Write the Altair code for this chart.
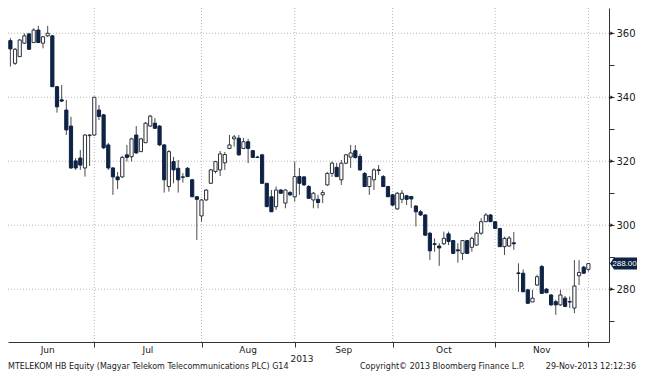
import altair as alt
import pandas as pd

# ---- daily OHLC (HUF), trading days 3-Jun-2013 .. 29-Nov-2013 ----
opens = [357.7, 357.7, 350.6, 352.7, 356.9, 359.8, 357.1, 361.0, 356.9, 359.2,
         359.2, 343.3, 339.2, 336.0, 331.0, 320.1, 321.0, 317.9, 328.0, 328.2,
         336.0, 334.5, 325.1, 317.9, 315.1, 315.1, 322.0, 321.4, 328.2, 323.0,
         325.8, 331.0, 331.9, 331.0, 325.1, 312.1, 319.9, 317.8, 315.1, 317.8,
         314.2, 308.9, 302.9, 307.9, 313.1, 316.8, 317.3, 319.5, 324.0, 327.0,
         327.2, 324.0, 326.1, 323.3, 321.3, 322.0, 313.1, 308.9, 305.8, 311.0,
         306.9, 310.2, 308.9, 315.2, 315.1, 312.1, 307.9, 308.1, 309.5, 312.6,
         316.2, 318.1, 314.2, 319.4, 321.3, 323.3, 321.5, 316.2, 312.1, 314.2,
         317.3, 315.2, 312.1, 309.5, 305.1, 308.1, 309.2, 309.0, 306.0, 304.2,
         303.2, 297.5, 294.2, 293.5, 294.2, 297.3, 295.2, 292.3, 291.2, 295.2,
         293.1, 293.8, 297.5, 301.1, 303.2, 301.1, 299.0, 293.3, 293.5, 294.5,
         285.1, 285.0, 279.8, 276.0, 281.3, 287.1, 280.0, 278.2, 276.1, 275.1,
         277.2, 276.1, 274.1, 284.2, 286.9, 286.2]
highs = [358.5, 358.5, 355.4, 358.2, 360.0, 360.1, 361.6, 362.3, 359.2, 362.3,
         359.5, 343.5, 343.8, 339.2, 333.9, 321.0, 323.5, 328.5, 328.5, 340.1,
         337.6, 334.8, 325.7, 318.2, 316.6, 321.7, 325.1, 327.3, 331.0, 327.3,
         332.3, 334.5, 333.5, 331.3, 325.4, 323.5, 321.4, 320.4, 316.3, 318.2,
         314.5, 309.1, 308.2, 311.3, 317.6, 320.1, 323.2, 322.9, 328.2, 328.2,
         328.2, 327.3, 327.0, 323.5, 321.7, 322.3, 313.2, 311.0, 312.1, 311.3,
         311.3, 310.7, 319.9, 317.9, 315.4, 312.6, 310.4, 309.5, 311.0, 316.6,
         319.9, 319.5, 320.4, 322.3, 325.1, 325.0, 322.3, 316.6, 315.4, 317.8,
         318.8, 315.7, 312.3, 309.8, 310.4, 311.0, 309.5, 309.1, 306.3, 304.8,
         303.5, 297.9, 295.9, 294.4, 298.0, 298.0, 295.4, 294.4, 295.4, 295.4,
         296.4, 297.9, 302.2, 303.8, 303.5, 301.3, 299.1, 296.4, 296.6, 297.9,
         288.1, 286.2, 280.1, 279.8, 284.5, 287.6, 280.4, 278.5, 276.7, 279.8,
         277.9, 277.7, 289.1, 289.1, 287.3, 288.2]
lows = [355.0, 349.6, 350.1, 352.6, 356.7, 354.8, 357.0, 357.0, 355.3, 358.8,
        343.2, 335.2, 338.5, 328.2, 317.6, 317.3, 317.3, 315.2, 318.5, 327.9,
        332.9, 323.8, 317.3, 309.5, 311.3, 314.8, 319.9, 319.9, 322.3, 322.9,
        325.7, 330.7, 330.1, 324.8, 310.2, 310.5, 313.1, 310.2, 313.3, 315.1,
        308.8, 295.4, 301.1, 307.6, 312.9, 316.2, 315.4, 317.3, 323.8, 324.6,
        321.7, 323.8, 319.4, 321.0, 321.0, 312.9, 305.7, 304.2, 304.8, 309.8,
        305.3, 309.1, 307.4, 309.5, 312.3, 308.2, 305.3, 305.3, 306.9, 312.3,
        315.1, 315.1, 312.6, 319.1, 317.9, 320.8, 317.0, 312.0, 309.5, 311.0,
        315.7, 312.0, 308.8, 306.0, 304.8, 306.9, 306.3, 305.4, 299.6, 302.9,
        296.6, 289.1, 291.7, 287.3, 293.8, 293.8, 291.0, 288.3, 289.1, 291.0,
        291.7, 293.5, 297.0, 301.0, 301.0, 298.8, 293.2, 290.7, 293.2, 292.3,
        279.2, 279.1, 275.4, 276.0, 281.0, 278.5, 278.8, 274.8, 272.0, 274.8,
        274.5, 274.1, 272.5, 281.3, 284.8, 285.5]
closes = [356.0, 355.1, 355.0, 357.9, 359.2, 355.0, 361.0, 357.1, 358.9, 360.0,
          343.3, 337.0, 338.8, 329.8, 317.9, 317.9, 318.8, 328.2, 328.2, 340.0,
          334.0, 324.2, 317.9, 315.1, 314.2, 321.2, 321.2, 327.0, 322.6, 327.0,
          331.9, 334.1, 330.3, 325.1, 314.2, 323.0, 317.3, 314.2, 315.0, 315.2,
          308.9, 308.1, 307.9, 311.0, 317.3, 319.9, 322.3, 322.1, 325.1, 327.6,
          322.0, 326.1, 324.0, 321.2, 321.2, 313.1, 305.8, 304.2, 311.0, 310.0,
          311.0, 309.5, 315.2, 313.1, 312.6, 308.4, 310.0, 307.1, 310.2, 316.2,
          319.4, 315.2, 319.4, 322.0, 322.6, 321.2, 317.3, 312.1, 315.2, 317.3,
          317.1, 312.1, 308.9, 306.3, 310.0, 310.0, 308.1, 308.2, 304.2, 303.2,
          296.9, 292.0, 294.0, 292.9, 295.9, 294.9, 291.2, 292.0, 295.2, 291.2,
          295.9, 297.5, 301.1, 303.2, 301.1, 299.0, 293.3, 295.9, 296.0, 294.2,
          284.9, 279.2, 275.6, 277.2, 283.9, 278.7, 278.9, 275.1, 275.1, 278.2,
          274.6, 276.0, 281.0, 285.2, 285.0, 288.0]

month_names = ["Jun", "Jul", "Aug", "Sep", "Oct", "Nov"]
month_last_day_idx = [19, 42, 62, 83, 105, 125]   # index of last trading day per month
prev_month_end_idx = -1
y_tick_values = [270, 280, 290, 300, 310, 320, 330, 340, 350, 360]
y_major_values = [280, 300, 320, 340, 360]
year_label = "2013"
last_label = "288.00"
footer_left = "MTELEKOM HB Equity (Magyar Telekom Telecommunications PLC) G14"
footer_mid = "Copyright\u00a9 2013 Bloomberg Finance L.P."
footer_right = "29-Nov-2013 12:12:36"

df = pd.DataFrame({"i": list(range(len(opens))), "open": opens, "high": highs,
                   "low": lows, "close": closes})
df["up"] = df["close"] >= df["open"]

ends = [prev_month_end_idx] + month_last_day_idx
months = pd.DataFrame({"m": month_names,
                       "pos": [(ends[j] + ends[j + 1]) / 2 for j in range(len(month_names))]})
vgrid = pd.DataFrame({"i": month_last_day_idx})
hgrid = pd.DataFrame({"v": y_major_values})
last = pd.DataFrame({"price": [closes[-1]], "label": [last_label]})

W, H = 601, 334
PAD_R, PAD_B = 28, 30
NAVY = "#0e2244"
FONT = "DejaVu Sans"
xs = alt.Scale(domain=[1.56, 128.35], nice=False, zero=False)
ys = alt.Scale(domain=[263.5, 367.9], nice=False, zero=False)

x_axis = alt.Axis(values=month_last_day_idx, labels=False, title=None, grid=False,
                  tickSize=5, tickColor="#333333", domainColor="#333333", domainWidth=1)
y_axis = alt.Axis(orient="right", values=y_tick_values, title=None, grid=False,
                  labelExpr="datum.value % 20 == 0 ? datum.label : ''",
                  tickSize=5, tickColor="#333333", domainColor="#333333", domainWidth=1,
                  labelPadding=2, labelFont=FONT, labelFontSize=10, labelColor="#1a1a1a")

grid_h = alt.Chart(hgrid).mark_rule(color="#b8b8b8", strokeDash=[1, 2], strokeWidth=1).encode(
    y=alt.Y("v:Q", scale=ys, axis=y_axis))
grid_v = alt.Chart(vgrid).mark_rule(color="#b8b8b8", strokeDash=[1, 2], strokeWidth=1).encode(
    x=alt.X("i:Q", scale=xs, axis=x_axis))

wicks = alt.Chart(df).mark_rule(color="#4a4a4a", strokeWidth=1, clip=True).encode(
    x=alt.X("i:Q", scale=xs, axis=x_axis),
    y=alt.Y("low:Q", scale=ys, axis=y_axis),
    y2="high:Q")

bodies = alt.Chart(df).mark_bar(size=3.2, strokeWidth=1, clip=True).encode(
    x=alt.X("i:Q", scale=xs, axis=x_axis),
    y=alt.Y("open:Q", scale=ys, axis=y_axis),
    y2="close:Q",
    fill=alt.condition("datum.up", alt.value("white"), alt.value(NAVY)),
    stroke=alt.condition("datum.up", alt.value("#2a2f3a"), alt.value(NAVY)))

month_text = alt.Chart(months).mark_text(font=FONT, fontSize=9, color="#1a1a1a",
                                         baseline="middle", align="center").encode(
    x=alt.X("pos:Q", scale=xs, axis=x_axis), y=alt.value(H + 8), text="m:N")

marks = alt.Chart(hgrid).mark_point(shape="triangle-right", filled=True, size=14,
                                    color="#222222", opacity=1).encode(
    x=alt.value(W + 3), y=alt.Y("v:Q", scale=ys, axis=y_axis))

box_path = "M-1,0L-0.733,-0.4L1,-0.4L1,0.4L-0.733,0.4Z"
last_box = alt.Chart(last).mark_point(shape=box_path, filled=True, size=900,
                                      color=NAVY, opacity=1).encode(
    x=alt.value(W + 16), y=alt.Y("price:Q", scale=ys, axis=y_axis))
last_text = alt.Chart(last).mark_text(font="Liberation Sans", fontSize=8,
                                      color="white", align="center",
                                      baseline="middle").encode(
    x=alt.value(W + 15.5), y=alt.Y("price:Q", scale=ys, axis=y_axis), text="label:N")

def label(txt, x, y, align="left", size=9):
    return alt.Chart(pd.DataFrame({"t": [txt]})).mark_text(
        font=FONT, fontSize=size, color="#1a1a1a", align=align, baseline="middle").encode(
        x=alt.value(x), y=alt.value(y), text="t:N")

year_text = label(year_label, 294, H + 17, align="center")
foot_l = label(footer_left, 0, H + 25, size=8)
foot_m = label(footer_mid, 352, H + 25, size=8)
foot_r = label(footer_right, W + PAD_R - 1, H + 25, align="right", size=8)

chart = alt.layer(grid_h, grid_v, wicks, bodies, month_text, marks, last_box, last_text,
                  year_text, foot_l, foot_m, foot_r).properties(
    width=W, height=H, background="white",
    autosize=alt.AutoSizeParams(type="none"),
    padding={"left": 0, "top": 0, "right": PAD_R, "bottom": PAD_B}
).configure_view(strokeWidth=0)

chart.save("out.html", embed_options={"renderer": "svg", "actions": False})
